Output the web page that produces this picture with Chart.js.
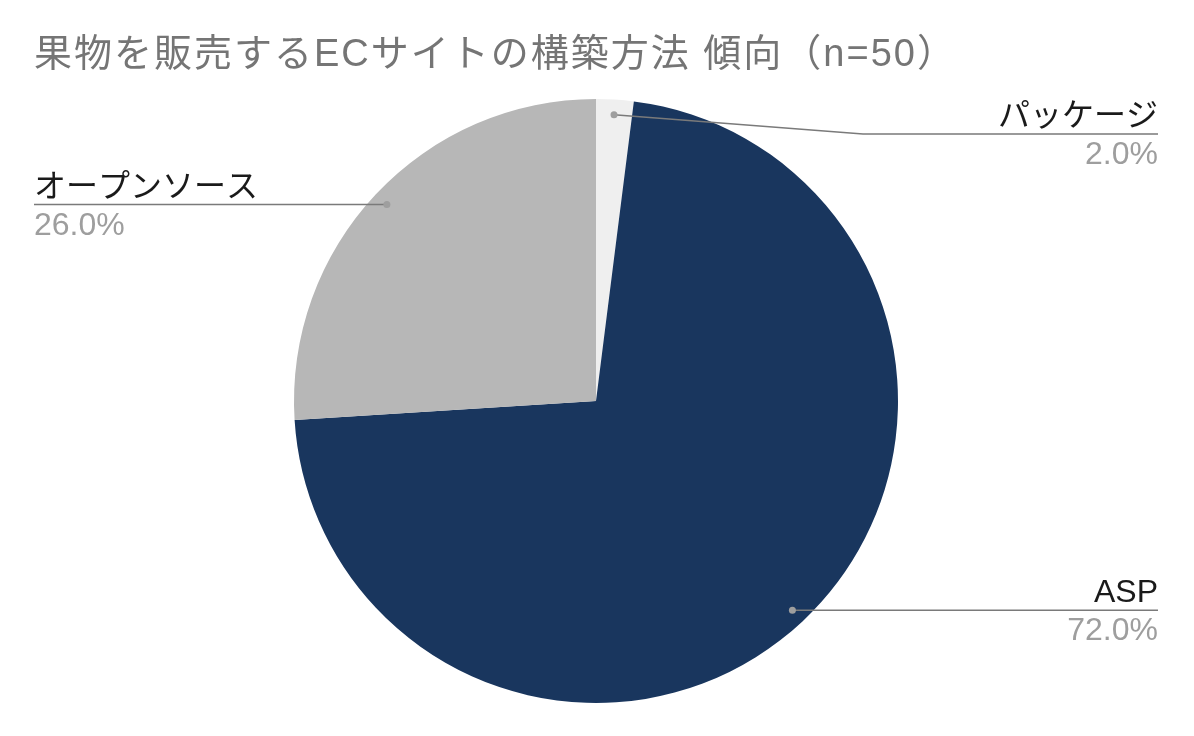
<!DOCTYPE html>
<html>
<head>
<meta charset="utf-8">
<script src="https://cdn.jsdelivr.net/npm/chart.js@4"></script>
<style>
  html, body { margin: 0; padding: 0; background: #ffffff; }
  #wrap { width: 1194px; height: 736px; position: relative; }
</style>
</head>
<body>
<div id="wrap"><canvas id="myChart"></canvas></div>
<script>
// Chart data
const chartTitle = '果物を販売するECサイトの構築方法 傾向（n=50）';
const categories = ['パッケージ', 'ASP', 'オープンソース'];
const shares = [2.0, 72.0, 26.0];
const sliceColors = ['#efefef', '#19365e', '#b7b7b7'];

const fontFamily = "'Liberation Sans', Arial, 'Noto Sans CJK JP', sans-serif";

// Draws the title and the leader-line labels around the pie
const calloutPlugin = {
    id: 'callouts',
    afterDraw(chart) {
        const ctx = chart.ctx;
        const meta = chart.getDatasetMeta(0);

        ctx.save();
        ctx.fillStyle = '#757575';
        ctx.font = `38px ${fontFamily}`;
        ctx.letterSpacing = '2px';
        ctx.textAlign = 'left';
        ctx.textBaseline = 'alphabetic';
        ctx.fillText(chartTitle, 34, 66);
        ctx.letterSpacing = '0px';

        meta.data.forEach((arc, i) => {
            const p = arc.getProps(['x', 'y', 'startAngle', 'endAngle', 'outerRadius'], true);
            const mid = (p.startAngle + p.endAngle) / 2;
            const r = p.outerRadius * 0.95;
            const px = p.x + Math.cos(mid) * r;
            const py = p.y + Math.sin(mid) * r;
            const right = Math.cos(mid) >= 0;
            const lineY = Math.max(py, 134);
            const endX = right ? 1158 : 34;

            ctx.strokeStyle = '#7a7a7a';
            ctx.lineWidth = 1.5;
            ctx.beginPath();
            ctx.moveTo(px, py);
            if (lineY !== py) {
                ctx.lineTo(right ? endX - 295 : endX + 295, lineY);
            }
            ctx.lineTo(endX, lineY);
            ctx.stroke();

            ctx.fillStyle = '#9e9e9e';
            ctx.beginPath();
            ctx.arc(px, py, 3.5, 0, Math.PI * 2);
            ctx.fill();

            ctx.textAlign = right ? 'right' : 'left';
            ctx.font = `32px ${fontFamily}`;
            ctx.fillStyle = '#1a1a1a';
            ctx.fillText(categories[i], endX, lineY - 8);
            ctx.fillStyle = '#9e9e9e';
            ctx.fillText(shares[i].toFixed(1) + '%', endX, lineY + 30);
        });
        ctx.restore();
    }
};

const ctx = document.getElementById('myChart').getContext('2d');
const pieChart = new Chart(ctx, {
    type: 'pie',
    data: {
        labels: categories,
        datasets: [{
            data: shares,
            backgroundColor: sliceColors,
            borderWidth: 0
        }]
    },
    options: {
        responsive: true,
        maintainAspectRatio: false,
        animation: false,
        layout: {
            padding: { top: 99, bottom: 33, left: 0, right: 2 }
        },
        plugins: {
            legend: { display: false },
            tooltip: { enabled: false },
            title: { display: false }
        }
    },
    plugins: [calloutPlugin]
});
</script>
</body>
</html>
